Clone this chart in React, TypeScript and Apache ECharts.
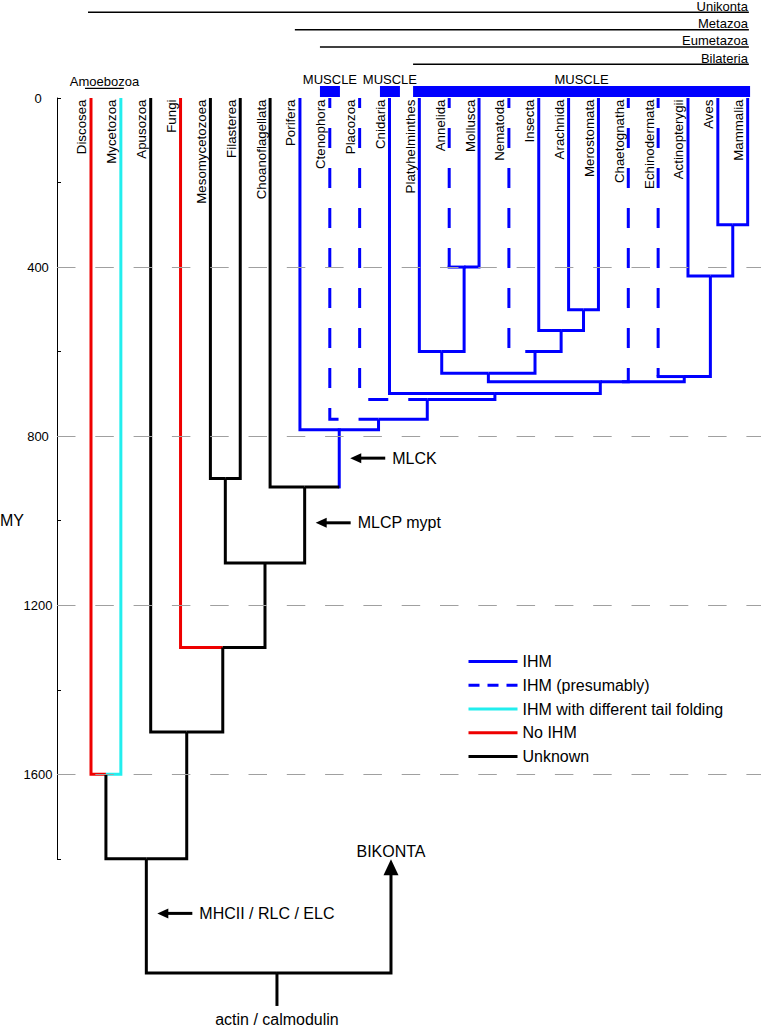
import React, { useEffect, useRef } from 'react';
import * as echarts from 'echarts';

const FONT = '"Liberation Sans", Arial, Helvetica, sans-serif';

// ---------- data ----------
const taxa = ['Discosea', 'Mycetozoa', 'Apusozoa', 'Fungi', 'Mesomycetozoea', 'Filasterea', 'Choanoflagellata', 'Porifera', 'Ctenophora', 'Placozoa', 'Cnidaria', 'Platyhelminthes', 'Annelida', 'Mollusca', 'Nematoda', 'Insecta', 'Arachnida', 'Merostomata', 'Chaetognatha', 'Echinodermata', 'Actinopterygii', 'Aves', 'Mammalia'];
const taxaVStatus = ['No', 'IHMt', 'Unk', 'No', 'Unk', 'Unk', 'Unk', 'IHM', 'IHMp', 'IHMp', 'IHM', 'IHM', 'IHMp', 'IHM', 'IHMp', 'IHM', 'IHM', 'IHM', 'IHMp', 'IHMp', 'IHM', 'IHM', 'IHM'];
const taxaHStatus = ['No', 'IHMt', 'Unk', 'No', 'Unk', 'Unk', 'Unk', 'IHM', 'IHMp', 'IHMp', 'IHM', 'IHM', 'IHM', 'IHM', 'IHMp', 'IHM', 'IHM', 'IHM', 'IHMp', 'IHM', 'IHM', 'IHM', 'IHM'];

const nodeNames = ['Amoebozoa', 'AraMer', 'Arthropoda', 'Ecdysozoa', 'AnnMol', 'Lophotrochozoa', 'Protostomia', 'Amniota', 'Chordata', 'Deuterostomia', 'Bilateria', 'CniBil', 'PlaCniBil', 'Eumetazoa', 'Metazoa', 'Choanozoa', 'MesFil', 'Holozoa', 'Opisthokonta', 'Obazoa', 'Unikonta', 'Root'];
const nodeChildren = [
  ['Discosea', 'Mycetozoa'],
  ['Arachnida', 'Merostomata'],
  ['Insecta', 'AraMer'],
  ['Nematoda', 'Arthropoda'],
  ['Annelida', 'Mollusca'],
  ['Platyhelminthes', 'AnnMol'],
  ['Lophotrochozoa', 'Ecdysozoa'],
  ['Aves', 'Mammalia'],
  ['Actinopterygii', 'Amniota'],
  ['Echinodermata', 'Chordata'],
  ['Protostomia', 'Chaetognatha', 'Deuterostomia'],
  ['Cnidaria', 'Bilateria'],
  ['Placozoa', 'CniBil'],
  ['Ctenophora', 'PlaCniBil'],
  ['Porifera', 'Eumetazoa'],
  ['Choanoflagellata', 'Metazoa'],
  ['Mesomycetozoea', 'Filasterea'],
  ['MesFil', 'Choanozoa'],
  ['Fungi', 'Holozoa'],
  ['Apusozoa', 'Opisthokonta'],
  ['Amoebozoa', 'Obazoa'],
  ['Unikonta', 'BIKONTA'],
];
const nodeAge = [1600, 501, 550, 600, 400, 600, 651, 300, 421, 659, 671, 699, 713, 760, 785, 920, 900, 1100, 1300, 1500, 1800, 2070];
const nodeVStatus = ['Unk', 'IHM', 'IHM', 'IHM', 'IHM', 'IHM', 'IHM', 'IHM', 'IHM', 'IHM', 'IHM', 'IHM', 'IHM', 'IHM', 'IHM', 'Unk', 'Unk', 'Unk', 'Unk', 'Unk', 'Unk', 'Unk'];
const nodeHStatus = ['Unk', 'IHM', 'IHM', 'IHM', 'IHM', 'IHM', 'IHM', 'IHM', 'IHM', 'IHM', 'IHM', 'IHM', 'IHM', 'IHM', 'Unk', 'Unk', 'Unk', 'Unk', 'Unk', 'Unk', 'Unk', 'Unk'];
const rootName = 'Root';
const rootX = 6.23;
const rootStubAge = 2148;
const rootLabel = 'actin / calmodulin';

const outgroupLabel = 'BIKONTA';
const outgroupX = 10.05;
const outgroupTipAge = 1801;

const yTickLabels = [0, 400, 800, 1200, 1600];
const yGridLines = [400, 800, 1200, 1600];
const yAxisMax = 1800;
const yAxisTitle = 'MY';
const yAxisTitleAt = 1000;

const clades = ['Unikonta', 'Metazoa', 'Eumetazoa', 'Bilateria'];
const cladeStart = [-0.1, 6.83, 7.67, 10.79];
const cladeEnd = [22.04, 22.04, 22.04, 22.04];

const muscleLabel = 'MUSCLE';
const muscleStart = [7.67, 9.68, 10.79];
const muscleEnd = [8.34, 10.35, 22.08];

const groupLabel = 'Amoebozoa';
const groupStart = -0.2;
const groupEnd = 1.1;

const annoLabels = ['MLCK', 'MLCP mypt', 'MHCII / RLC / ELC'];
const annoNode = ['Metazoa', 'Choanozoa', 'Unikonta'];
const annoAge = [852, 1005, 1929];

const statusKeys = ['IHM', 'IHMp', 'IHMt', 'No', 'Unk'];
const legendNames = ['IHM', 'IHM (presumably)', 'IHM with different tail folding', 'No IHM', 'Unknown'];
const statusColors = ['#0000ff', '#0000ff', '#22eeee', '#ee0000', '#000000'];

// ---------- layout ----------
const W = 761;
const H = 1029;
const GRID_LEFT = 57;
const GRID_TOP = 98;
const PX_PER_MY = 0.4227;
const X_MIN = -1.139;
const X_MAX = 22.446;

const colorOf = (s: string) => statusColors[statusKeys.indexOf(s)];

export default function App() {
  const ref = useRef<HTMLDivElement>(null);

  useEffect(() => {
    const chart = echarts.init(ref.current!, null, { renderer: 'svg' });

    // ----- tree geometry from topology -----
    const xOf: Record<string, number> = {};
    const ageOf: Record<string, number> = {};
    const parentOf: Record<string, string> = {};
    const vStat: Record<string, string> = {};
    const hStat: Record<string, string> = {};
    taxa.forEach((t, i) => {
      xOf[t] = i; ageOf[t] = 0; vStat[t] = taxaVStatus[i]; hStat[t] = taxaHStatus[i];
    });
    xOf[outgroupLabel] = outgroupX;
    ageOf[outgroupLabel] = outgroupTipAge;
    nodeNames.forEach((n, i) => {
      const ch = nodeChildren[i];
      ch.forEach((c) => { parentOf[c] = n; });
      xOf[n] = n === rootName ? rootX : ch.reduce((s, c) => s + xOf[c], 0) / ch.length;
      ageOf[n] = nodeAge[i];
      vStat[n] = nodeVStatus[i];
      hStat[n] = nodeHStatus[i];
    });

    type Seg = { pts: number[][]; status: string; cap: string };
    const segs: Seg[] = [];
    [...taxa, ...nodeNames].forEach((n) => {
      const p = parentOf[n];
      if (!p) return;
      const x = xOf[n], a = ageOf[n], xp = xOf[p], ap = ageOf[p];
      if (vStat[n] === hStat[n]) {
        segs.push({ pts: [[x, a], [x, ap], [xp, ap]], status: vStat[n], cap: 'butt' });
      } else {
        segs.push({ pts: [[x, a], [x, ap]], status: vStat[n], cap: vStat[n] === 'IHMp' ? 'butt' : 'square' });
        segs.push({ pts: [[x, ap], [xp, ap]], status: hStat[n], cap: vStat[n] === 'IHMp' && hStat[n] !== 'IHMp' ? 'square' : 'butt' });
      }
    });
    // root stub
    segs.push({ pts: [[rootX, ageOf[rootName]], [rootX, rootStubAge]], status: 'Unk', cap: 'butt' });
    segs.sort((a, b) => (a.status === 'IHMp' ? 0 : 1) - (b.status === 'IHMp' ? 0 : 1));

    const txt = (text: string, x: number, y: number, size: number, align: string, valign: string, extra: any = {}) => ({
      type: 'text',
      x, y,
      ...extra,
      style: {
        text, x: 0, y: 0,
        font: `${size}px ${FONT}`,
        fill: '#000',
        align, textAlign: align,
        verticalAlign: valign, textVerticalAlign: valign,
      },
    });

    const option: any = {
      animation: false,
      backgroundColor: '#fff',
      grid: [
        { left: GRID_LEFT, top: GRID_TOP, width: W - GRID_LEFT, height: yAxisMax * PX_PER_MY },
        { left: GRID_LEFT, top: GRID_TOP, width: W - GRID_LEFT, height: 2200 * PX_PER_MY },
      ],
      xAxis: [
        { gridIndex: 0, type: 'value', min: X_MIN, max: X_MAX, show: false },
        { gridIndex: 1, type: 'value', min: X_MIN, max: X_MAX, show: false },
      ],
      yAxis: [
        {
          gridIndex: 0, type: 'value', inverse: true, min: 0, max: yAxisMax, interval: 200,
          axisLine: { show: true, onZero: false, lineStyle: { color: '#000', width: 1 } },
          axisTick: { show: true, inside: true, length: 4, lineStyle: { color: '#000', width: 1 } },
          axisLabel: {
            show: true, margin: 19, align: 'center', fontSize: 13, fontFamily: FONT, color: '#000',
            formatter: (v: number) => (yTickLabels.includes(v) ? String(v) : ''),
          },
          splitLine: { show: false },
        },
        { gridIndex: 1, type: 'value', inverse: true, min: 0, max: 2200, show: false },
      ],
      legend: {
        orient: 'vertical', left: 462, top: 648.4, padding: 5,
        itemWidth: 49, itemHeight: 16, itemGap: 7.8,
        selectedMode: false,
        textStyle: { fontSize: 16, color: '#000', fontFamily: FONT },
        itemStyle: { opacity: 0 },
        lineStyle: { width: 3 },
        data: legendNames,
      },
      series: [
        // grid lines
        {
          type: 'line', xAxisIndex: 0, yAxisIndex: 0, data: [], silent: true,
          markLine: {
            silent: true, symbol: 'none', label: { show: false },
            lineStyle: { color: '#a0a0a0', width: 1, type: [18.5, 19.8] },
            data: yGridLines.map((v) => ({ yAxis: v })),
          },
        },
        // legend dummies
        ...legendNames.map((name, i) => ({
          type: 'line', name, xAxisIndex: 1, yAxisIndex: 1, data: [], symbol: 'none',
          lineStyle: { color: statusColors[i], width: 3, type: statusKeys[i] === 'IHMp' ? [11, 8] : 'solid' },
          itemStyle: { color: statusColors[i], opacity: 0 },
        })),
        // tree branches
        {
          type: 'custom', coordinateSystem: 'cartesian2d', xAxisIndex: 1, yAxisIndex: 1, silent: true, clip: false,
          data: segs.map(() => [0, 0]),
          renderItem: (params: any, api: any) => {
            const s = segs[params.dataIndex];
            const pts = s.pts.map((p) => api.coord(p));
            return {
              type: 'polyline',
              shape: { points: pts },
              style: {
                stroke: colorOf(s.status), fill: null, lineWidth: 3,
                lineDash: s.status === 'IHMp' ? [20, 20] : null,
                lineDashOffset: 10,
                lineJoin: 'miter', lineCap: s.cap,
              },
            };
          },
        },
        // taxa labels
        {
          type: 'custom', coordinateSystem: 'cartesian2d', xAxisIndex: 1, yAxisIndex: 1, silent: true, clip: false,
          data: taxa.map(() => [0, 0]),
          renderItem: (params: any, api: any) => {
            const i = params.dataIndex;
            const p = api.coord([i, 0]);
            return txt(taxa[i], p[0] - 9, p[1] + 1.5, 13.3, 'right', 'middle', { rotation: Math.PI / 2 });
          },
        },
        // header, annotations, outgroup
        {
          type: 'custom', coordinateSystem: 'cartesian2d', xAxisIndex: 1, yAxisIndex: 1, silent: true, clip: false,
          data: [[0, 0]],
          renderItem: (params: any, api: any) => {
            const children: any[] = [];
            const top = api.coord([0, 0])[1];
            // clade bars
            clades.forEach((c, i) => {
              const x0 = api.coord([cladeStart[i], 0])[0];
              const x1 = api.coord([cladeEnd[i], 0])[0];
              const y = top - 85.7 + 17.35 * i;
              children.push({ type: 'line', shape: { x1: x0, y1: y, x2: x1, y2: y }, style: { stroke: '#000', lineWidth: 1.5 } });
              children.push(txt(c, x1 - 1, y - 6.3, 13, 'right', 'middle'));
            });
            // muscle boxes
            muscleStart.forEach((ms, i) => {
              const x0 = api.coord([ms, 0])[0];
              const x1 = api.coord([muscleEnd[i], 0])[0];
              children.push({ type: 'rect', shape: { x: x0, y: top - 12, width: x1 - x0, height: 11 }, style: { fill: '#0000ff' } });
              children.push(txt(muscleLabel, (x0 + x1) / 2, top - 19, 13, 'center', 'middle'));
            });
            // Amoebozoa
            {
              const x0 = api.coord([groupStart, 0])[0];
              const x1 = api.coord([groupEnd, 0])[0];
              children.push({ type: 'line', shape: { x1: x0, y1: top - 9.7, x2: x1, y2: top - 9.7 }, style: { stroke: '#000', lineWidth: 1.2 } });
              children.push(txt(groupLabel, (x0 + x1) / 2, top - 17, 13, 'center', 'middle'));
            }
            // axis title
            children.push(txt(yAxisTitle, 0, api.coord([0, yAxisTitleAt])[1], 16, 'left', 'middle'));
            // arrows with labels
            annoLabels.forEach((lab, i) => {
              const p = api.coord([xOf[annoNode[i]], annoAge[i]]);
              const tip = p[0] + 11;
              const y = p[1];
              children.push({ type: 'polygon', shape: { points: [[tip, y], [tip + 11, y - 5], [tip + 11, y + 5]] }, style: { fill: '#000' } });
              children.push({ type: 'line', shape: { x1: tip + 9, y1: y, x2: tip + 35, y2: y }, style: { stroke: '#000', lineWidth: 3 } });
              children.push(txt(lab, tip + 42, y, 16, 'left', 'middle'));
            });
            // outgroup arrow
            {
              const base = api.coord([xOf[outgroupLabel], ageOf[rootName]]);
              const rootP = api.coord([xOf[rootName], ageOf[rootName]]);
              const tipP = api.coord([xOf[outgroupLabel], ageOf[outgroupLabel]]);
              children.push({
                type: 'polyline',
                shape: { points: [[base[0], tipP[1] + 12], [base[0], base[1]], [rootP[0], rootP[1]]] },
                style: { stroke: '#000', lineWidth: 3, fill: null, lineJoin: 'miter' },
              });
              children.push({ type: 'polygon', shape: { points: [[tipP[0], tipP[1]], [tipP[0] + 7.5, tipP[1] + 16], [tipP[0] - 7.5, tipP[1] + 16]] }, style: { fill: '#000' } });
              children.push(txt(outgroupLabel, tipP[0], tipP[1] - 8, 16, 'center', 'middle'));
            }
            // root label
            {
              const p = api.coord([rootX, rootStubAge]);
              children.push(txt(rootLabel, p[0], p[1] + 14, 16, 'center', 'middle'));
            }
            return { type: 'group', children };
          },
        },
      ],
    };

    chart.setOption(option);
    return () => chart.dispose();
  }, []);

  return (
    <div
      ref={ref}
      style={{ position: 'absolute', left: 0, top: 0, width: W, height: H, background: '#fff' }}
    />
  );
}
